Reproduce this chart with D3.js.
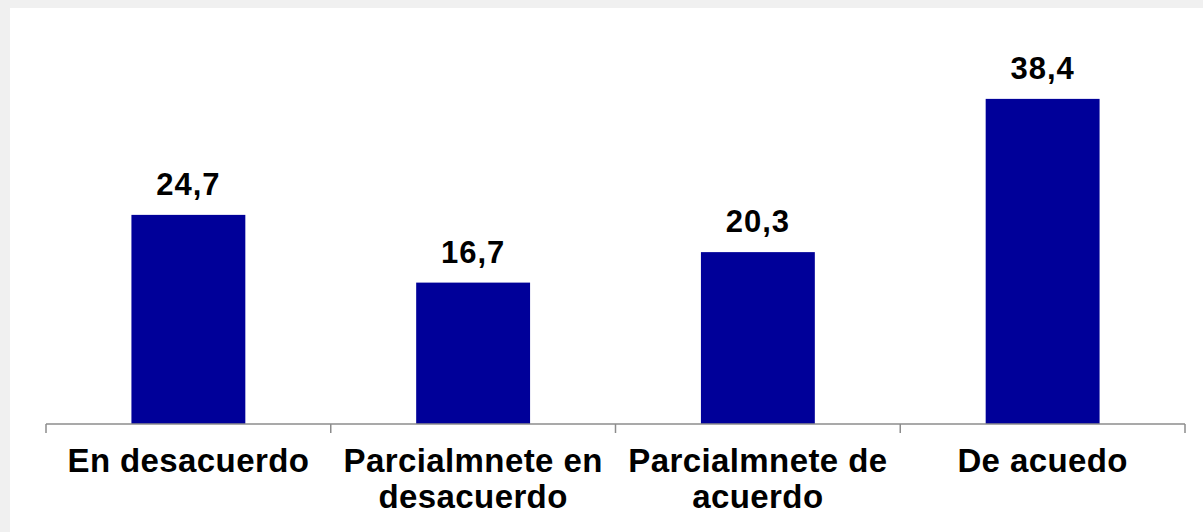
<!DOCTYPE html>
<html>
<head>
<meta charset="utf-8">
<script src="https://d3js.org/d3.v7.min.js"></script>
<style>
  html, body { margin: 0; padding: 0; background: #f0f0f0; }
  svg { display: block; }
</style>
</head>
<body>
<svg width="1203" height="532"></svg>
<script>
// data
var categories = ["En desacuerdo", "Parcialmnete en desacuerdo", "Parcialmnete de acuerdo", "De acuedo"];
var labelLines = [["En desacuerdo"], ["Parcialmnete en", "desacuerdo"], ["Parcialmnete de", "acuerdo"], ["De acuedo"]];
var values = [24.7, 16.7, 20.3, 38.4];

var svg = d3.select("svg");

// white panel inside the gray frame
svg.append("rect")
	.attr("x", 10)
	.attr("y", 8)
	.attr("width", 1193)
	.attr("height", 524)
	.attr("fill", "#fff");

var x = d3.scaleBand()
	.domain(categories)
	.range([46, 1185])
	.paddingInner(0.6)
	.paddingOuter(0.3);

var y = d3.scaleLinear()
	.domain([0, 45])
	.range([424, 43]);

var fmt = function(v) { return d3.format(".1f")(v).replace(".", ","); };

// bars
svg.append("g")
	.selectAll("rect")
	.data(values)
	.enter().append("rect")
		.attr("x", function(d, i) { return x(categories[i]); })
		.attr("y", function(d) { return y(d); })
		.attr("width", x.bandwidth())
		.attr("height", function(d) { return y(0) - y(d); })
		.attr("fill", "#000099");

// value labels
svg.append("g")
	.attr("font-family", "'Liberation Sans', Arial, sans-serif")
	.attr("font-weight", "bold")
	.attr("font-size", 31)
	.attr("letter-spacing", 1)
	.attr("text-anchor", "middle")
	.selectAll("text")
	.data(values)
	.enter().append("text")
		.attr("x", function(d, i) { return x(categories[i]) + x.bandwidth() / 2; })
		.attr("y", function(d) { return y(d) - 20; })
		.attr("fill", "#000")
		.text(fmt);

// x axis: line plus tick marks at category boundaries
var axis = svg.append("g").attr("stroke", "#8c8c8c").attr("stroke-width", 1.5);
var edges = [x.range()[0]].concat(categories.map(function(c) { return x(c) - x.step() * x.paddingInner() / 2 + x.step(); }));
edges[edges.length - 1] = x.range()[1];

axis.append("line")
	.attr("x1", x.range()[0]).attr("x2", x.range()[1])
	.attr("y1", y(0)).attr("y2", y(0));

axis.selectAll("line.tick")
	.data(edges)
	.enter().append("line")
		.attr("class", "tick")
		.attr("x1", function(d) { return d; }).attr("x2", function(d) { return d; })
		.attr("y1", y(0)).attr("y2", y(0) + 9);

// category labels
var cat = svg.append("g")
	.attr("font-family", "'Liberation Sans', Arial, sans-serif")
	.attr("font-weight", "bold")
	.attr("font-size", 33)
	.attr("letter-spacing", 0.4)
	.attr("text-anchor", "middle")
	.attr("fill", "#000")
	.selectAll("text")
	.data(categories)
	.enter().append("text")
		.attr("x", function(d) { return x(d) + x.bandwidth() / 2; })
		.attr("y", 472);

cat.selectAll("tspan")
	.data(function(d, i) { return labelLines[i]; })
	.enter().append("tspan")
		.attr("x", function() { return d3.select(this.parentNode).attr("x"); })
		.attr("dy", function(d, i) { return i === 0 ? 0 : 36; })
		.text(function(d) { return d; });
</script>
</body>
</html>
